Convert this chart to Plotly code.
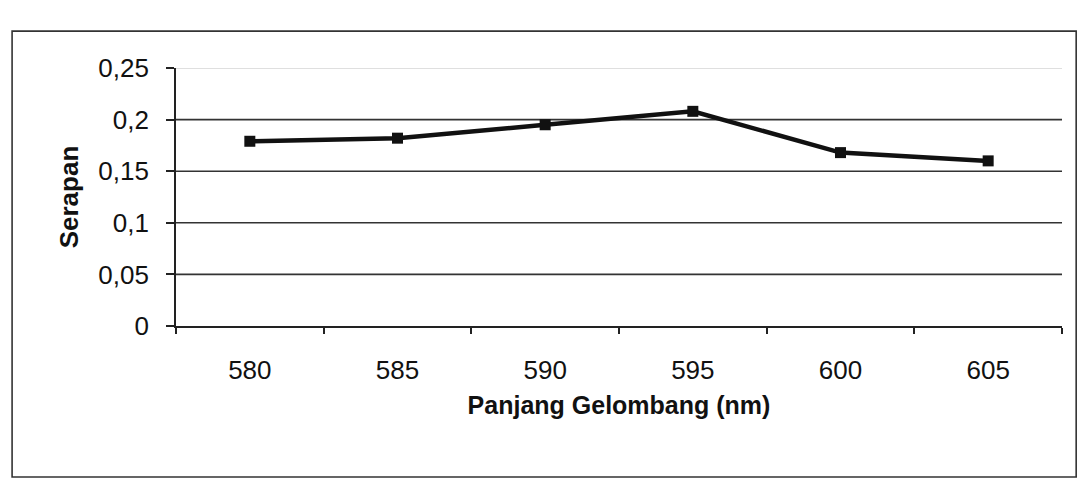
import plotly.graph_objects as go

# Absorbance readings per wavelength
wavelengths = ["580", "585", "590", "595", "600", "605"]
serapan = [0.179, 0.182, 0.195, 0.208, 0.168, 0.160]

y_ticks = [0, 0.05, 0.1, 0.15, 0.2, 0.25]
y_tick_text = ["0", "0,05", "0,1", "0,15", "0,2", "0,25"]
grid_colors = ["#222222", "#333333", "#333333", "#333333", "#333333", "#d4d4d4"]

FONT = "Arial, Liberation Sans, sans-serif"

fig = go.Figure()
fig.add_trace(go.Scatter(
    x=wavelengths,
    y=serapan,
    mode="lines+markers",
    line=dict(color="#111111", width=4.5),
    marker=dict(symbol="square", size=11, color="#111111"),
    showlegend=False,
    hoverinfo="skip",
))

# Horizontal grid lines, one per y tick
for val, col in zip(y_ticks[1:], grid_colors[1:]):
    fig.add_hline(y=val, line=dict(color=col, width=1.6), layer="below")

# Outer chart frame
fig.add_shape(type="rect", xref="paper", yref="paper",
              x0=-0.185, x1=1.016, y0=-0.585, y1=1.143,
              line=dict(color="#333333", width=1.6), fillcolor="rgba(0,0,0,0)")

fig.update_layout(
    width=1083, height=498,
    margin=dict(l=176, r=21, t=68, b=172),
    paper_bgcolor="white", plot_bgcolor="white",
    font=dict(family=FONT, color="#111111", size=26),
    xaxis=dict(
        type="category",
        range=[-0.5, 5.5],
        tickson="boundaries",
        ticks="outside", ticklen=6, tickcolor="#222222", tickwidth=1.5,
        showline=True, linecolor="#222222", linewidth=1.8,
        showgrid=False, zeroline=False,
        ticklabelstandoff=20,
        tickfont=dict(size=26),
        title=dict(text="<b>Panjang Gelombang (nm)</b>", font=dict(size=25), standoff=12),
    ),
    yaxis=dict(
        range=[0, 0.25],
        tickvals=y_ticks, ticktext=y_tick_text,
        ticks="outside", ticklen=8, tickcolor="#222222", tickwidth=1.5,
        showline=True, linecolor="#222222", linewidth=1.8,
        showgrid=False, zeroline=False,
        ticklabelstandoff=12,
        tickfont=dict(size=26),
        title=dict(text="<b>Serapan</b>", font=dict(size=26), standoff=12),
    ),
)

fig.write_html("out.html")
